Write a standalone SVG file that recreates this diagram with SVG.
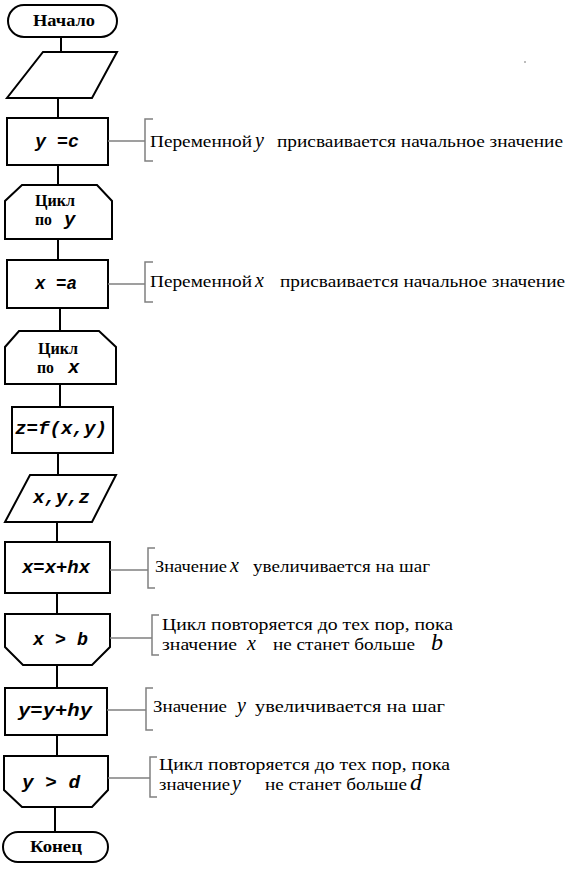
<svg xmlns="http://www.w3.org/2000/svg" width="582" height="873" viewBox="0 0 582 873">
<style>
.s{fill:#fff;stroke:#000;stroke-width:2}
.c{fill:none;stroke:#000;stroke-width:2}
.b{fill:none;stroke:#808080;stroke-width:1.5}
.m{font-weight:bold;font-style:italic;font-size:19px;fill:#000}
.r{font-weight:bold;font-size:16px;fill:#000}
.t{font-size:17px;fill:#000}
.v{font-style:italic;font-size:20px}
.w{font-style:italic;font-size:24px}
</style>
<rect width="582" height="873" fill="#fff"/>
<g id="connectors">
<line class="c" x1="61" y1="37" x2="61" y2="52"/>
<line class="c" x1="58" y1="98" x2="58" y2="118"/>
<line class="c" x1="58" y1="165" x2="58" y2="185"/>
<line class="c" x1="58" y1="239" x2="58" y2="260"/>
<line class="c" x1="60" y1="308" x2="60" y2="331"/>
<line class="c" x1="60" y1="384" x2="60" y2="407"/>
<line class="c" x1="58" y1="453" x2="58" y2="475"/>
<line class="c" x1="57" y1="522" x2="57" y2="542"/>
<line class="c" x1="57" y1="593" x2="57" y2="614"/>
<line class="c" x1="57" y1="665" x2="57" y2="688"/>
<line class="c" x1="57" y1="735" x2="57" y2="756"/>
<line class="c" x1="55" y1="807" x2="55" y2="832"/>
</g>
<g font-family="Liberation Mono, Cousine, Courier New, DejaVu Sans Mono, monospace">
<g id="start">
<rect class="s" x="8" y="5" width="109" height="32" rx="16"/>
<text class="r" x="33" y="26" textLength="62" lengthAdjust="spacingAndGlyphs" font-family="Liberation Serif, Tinos, serif">Начало</text>
</g>
<g id="input">
<polygon class="s" points="43,52 117,52 92,98 7,98"/>
</g>
<g id="y_init">
<rect class="s" x="7" y="118" width="101" height="47"/>
<text class="m" x="35" y="147" textLength="44" lengthAdjust="spacingAndGlyphs">y =c</text>
</g>
<g id="loop_y">
<polygon class="s" points="22,185 97,185 112,201 112,239 5,239 5,201"/>
<text class="r" x="35" y="206" textLength="40" lengthAdjust="spacingAndGlyphs" font-family="Liberation Serif, Tinos, serif">Цикл</text>
<text class="r" x="35" y="225" textLength="17" lengthAdjust="spacingAndGlyphs" font-family="Liberation Serif, Tinos, serif">по</text>
<text class="m" x="64" y="225" font-size="17">y</text>
</g>
<g id="x_init">
<rect class="s" x="7" y="260" width="101" height="48"/>
<text class="m" x="35" y="289" textLength="42" lengthAdjust="spacingAndGlyphs">x =a</text>
</g>
<g id="loop_x">
<polygon class="s" points="19,331 99,331 116,347 116,384 5,384 5,347"/>
<text class="r" x="38" y="354" textLength="40" lengthAdjust="spacingAndGlyphs" font-family="Liberation Serif, Tinos, serif">Цикл</text>
<text class="r" x="37" y="373" textLength="17" lengthAdjust="spacingAndGlyphs" font-family="Liberation Serif, Tinos, serif">по</text>
<text class="m" x="68" y="373" font-size="17">x</text>
</g>
<g id="calc">
<rect class="s" x="12" y="407" width="101" height="46"/>
<text class="m" x="15" y="434" textLength="92" lengthAdjust="spacingAndGlyphs">z=f(x,y)</text>
</g>
<g id="output">
<polygon class="s" points="30,475 116,475 92,522 5,522"/>
<text class="m" x="33" y="503" textLength="57" lengthAdjust="spacingAndGlyphs">x,y,z</text>
</g>
<g id="x_step">
<rect class="s" x="5" y="542" width="105" height="51"/>
<text class="m" x="22" y="573" textLength="68" lengthAdjust="spacingAndGlyphs">x=x+hx</text>
</g>
<g id="x_end">
<polygon class="s" points="5,614 110,614 110,647 92,665 23,665 5,647"/>
<text class="m" x="33" y="645" textLength="55" lengthAdjust="spacingAndGlyphs">x &gt; b</text>
</g>
<g id="y_step">
<rect class="s" x="5" y="688" width="102" height="47"/>
<text class="m" x="18" y="716" textLength="74" lengthAdjust="spacingAndGlyphs">y=y+hy</text>
</g>
<g id="y_end">
<polygon class="s" points="4,756 108,756 108,790 92,807 22,807 4,790"/>
<text class="m" x="22" y="788" textLength="58" lengthAdjust="spacingAndGlyphs">y &gt; d</text>
</g>
<g id="end">
<rect class="s" x="3" y="832" width="105" height="30" rx="15"/>
<text class="r" x="30" y="852" textLength="52" lengthAdjust="spacingAndGlyphs" font-family="Liberation Serif, Tinos, serif">Конец</text>
</g>
</g>
<g font-family="Liberation Serif, Tinos, Times New Roman, DejaVu Serif, serif">
<g id="note_y_init">
<path class="b" d="M108,141 H145 M153,119 H145 V161 H153"/>
<text class="t" x="150" y="147" textLength="102" lengthAdjust="spacingAndGlyphs">Переменной</text>
<text class="t v" x="255" y="147">y</text>
<text class="t" x="277" y="147" textLength="286" lengthAdjust="spacingAndGlyphs">присваивается начальное значение</text>
</g>
<g id="note_x_init">
<path class="b" d="M108,284 H145 M153,262 H145 V302 H153"/>
<text class="t" x="150" y="287" textLength="102" lengthAdjust="spacingAndGlyphs">Переменной</text>
<text class="t v" x="255" y="287">x</text>
<text class="t" x="280" y="287" textLength="285" lengthAdjust="spacingAndGlyphs">присваивается начальное значение</text>
</g>
<g id="note_x_step">
<path class="b" d="M110,570 H148 M155,548 H148 V588 H155"/>
<text class="t" x="155" y="572" textLength="72" lengthAdjust="spacingAndGlyphs">Значение</text>
<text class="t v" x="230" y="572">x</text>
<text class="t" x="253" y="572" textLength="177" lengthAdjust="spacingAndGlyphs">увеличивается на шаг</text>
</g>
<g id="note_x_end">
<path class="b" d="M110,638 H152 M159,615 H152 V655 H159"/>
<text class="t" x="162" y="630" textLength="291" lengthAdjust="spacingAndGlyphs">Цикл повторяется до тех пор, пока</text>
<text class="t" x="162" y="650" textLength="75" lengthAdjust="spacingAndGlyphs">значение</text>
<text class="t v" x="247" y="650">x</text>
<text class="t" x="273" y="650" textLength="142" lengthAdjust="spacingAndGlyphs">не станет больше</text>
<text class="t w" x="431" y="650">b</text>
</g>
<g id="note_y_step">
<path class="b" d="M107,710 H146 M153,688 H146 V730 H153"/>
<text class="t" x="153" y="712" textLength="74" lengthAdjust="spacingAndGlyphs">Значение</text>
<text class="t v" x="237" y="712">y</text>
<text class="t" x="255" y="712" textLength="190" lengthAdjust="spacingAndGlyphs">увеличивается на шаг</text>
</g>
<g id="note_y_end">
<path class="b" d="M108,778 H150 M157,757 H150 V797 H157"/>
<text class="t" x="159" y="770" textLength="291" lengthAdjust="spacingAndGlyphs">Цикл повторяется до тех пор, пока</text>
<text class="t" x="159" y="790" textLength="71" lengthAdjust="spacingAndGlyphs">значение</text>
<text class="t v" x="232" y="790">y</text>
<text class="t" x="265" y="790" textLength="142" lengthAdjust="spacingAndGlyphs">не станет больше</text>
<text class="t w" x="410" y="790">d</text>
</g>
</g>
<circle cx="525" cy="62" r="0.8" fill="#666"/>
</svg>
